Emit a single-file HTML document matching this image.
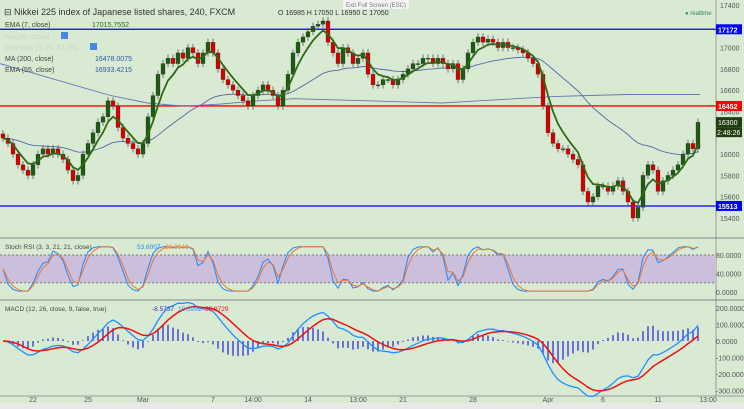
<!DOCTYPE html>
<html><head><meta charset="utf-8">
<style>
body{margin:0;width:744px;height:409px;overflow:hidden;background:#d9ead3;font-family:"Liberation Sans",sans-serif}
svg{display:block}
text{font-family:"Liberation Sans",sans-serif}
</style></head><body>
<svg id="c" width="744" height="409"></svg>
<script>
const closes=[16150,16100,16000,15900,15850,15800,15900,16000,16050,16000,16050,16000,15950,15850,15750,15800,16000,16100,16200,16300,16350,16500,16450,16250,16150,16100,16050,16000,16100,16350,16550,16750,16850,16900,16850,16950,16900,17000,16950,16850,16950,17050,16950,16800,16700,16650,16600,16550,16500,16450,16550,16600,16650,16600,16550,16450,16600,16750,16950,17050,17100,17150,17200,17220,17250,17050,16950,16850,17000,16950,16850,16900,16950,16750,16650,16650,16700,16700,16650,16700,16750,16800,16850,16850,16900,16900,16850,16900,16850,16800,16850,16700,16800,16950,17050,17100,17050,17080,17050,17000,17050,17000,17000,16980,16950,16900,16850,16750,16450,16200,16100,16050,16050,16000,15950,15900,15650,15550,15600,15700,15700,15650,15700,15750,15650,15550,15400,15500,15800,15900,15850,15650,15750,15800,15850,15900,16000,16100,16050,16300];
const maLong=[16850,16750,16650,16550,16480,16450,16470,16500,16520,16510,16500,16490,16480,16500,16520,16540,16550,16560,16560,16560];
const priceTicks=[17400,17000,16800,16600,16400,16000,15800,15600,15400];
const stochTicks=[80,40,0];
const macdTicks=[200,100,0,-100,-200,-300];
const xLabels=["22","25","Mar","7","14:00","14","13:00","21","28","Apr","6","11","13:00"];
const xLabelIdx=[6,17,28,42,50,61,71,80,94,109,120,131,141];
const levels=[17172,16452,15513];
const levelColors=["#0000ff","#ff0000","#0000ff"];

const NS="http://www.w3.org/2000/svg",svg=document.getElementById('c');
function el(tag,attrs,parent,txt){const e=document.createElementNS(NS,tag);for(const k in attrs)e.setAttribute(k,attrs[k]);if(txt!==undefined)e.textContent=txt;(parent||svg).appendChild(e);return e;}
const PW=716;
const px=i=>3+i*5;
const py=v=>5+(17400-v)*0.1065;
const sy=v=>292-v*0.4625;
const my=v=>341-v*0.165;
function ema(a,n){const k=2/(n+1);let r=[],p=a[0];a.forEach(v=>{p=v*k+p*(1-k);r.push(p)});return r;}
function line(vals,xf,yf,col,w,name){let d=vals.map((v,i)=>(i?'L':'M')+xf(i).toFixed(1)+','+yf(v).toFixed(1)).join('');const p=el('path',{d,fill:'none',stroke:col,'stroke-width':w});return p;}

// panels
el('rect',{x:0,y:0,width:744,height:409,fill:'#d9ead3'});
el('line',{x1:PW,y1:0,x2:PW,y2:396,stroke:'#999'});
el('line',{x1:0,y1:238,x2:744,y2:238,stroke:'#888'});
el('line',{x1:0,y1:300,x2:744,y2:300,stroke:'#888'});
el('line',{x1:0,y1:396,x2:744,y2:396,stroke:'#999'});
el('rect',{x:0,y:403,width:744,height:6,fill:'#e8e8e8'});
// stoch band
const band=el('rect',{x:0,y:sy(80),width:PW,height:sy(20)-sy(80),fill:'#cbbfdc'});

[80,20].forEach(v=>el('line',{x1:0,x2:PW,y1:sy(v),y2:sy(v),stroke:'#777','stroke-dasharray':'2,2'}));

// axes labels
priceTicks.forEach(v=>{const t=el('text',{x:720,y:py(v)+3,'font-size':7,fill:'#555'},null,v);});
stochTicks.forEach(v=>{const t=el('text',{x:716,y:sy(v)+3,'font-size':7,fill:'#555'},null,v.toFixed(4));});
macdTicks.forEach(v=>{const t=el('text',{x:716,y:my(v)+3,'font-size':7,fill:'#555'},null,v.toFixed(4));});
xLabels.forEach((s,j)=>{const t=el('text',{x:px(xLabelIdx[j]),y:402,'font-size':7,fill:'#555','text-anchor':'middle'},null,s);});

// levels
levels.forEach((v,j)=>{const l=el('line',{x1:0,x2:PW,y1:py(v),y2:py(v),stroke:levelColors[j],'stroke-width':1.3});
el('rect',{x:716,y:py(v)-5,width:26,height:10,fill:levelColors[j]});el('text',{x:718,y:py(v)+3,'font-size':7,fill:'#fff','font-weight':'bold'},null,v);});
const last=closes[closes.length-1];
el('rect',{x:716,y:py(last)-5,width:26,height:10,fill:'#1f3d10'});el('text',{x:718,y:py(last)+3,'font-size':7,fill:'#fff'},null,last);
el('rect',{x:716,y:py(last)+5,width:26,height:10,fill:'#1f3d10'});el('text',{x:717,y:py(last)+13,'font-size':7,fill:'#fff'},null,'2:48:26');

// MAs
line(maLong,i=>i*(700/(maLong.length-1)),py,'#6677bb',0.9,'ma-200-line');
line(ema(closes,35),px,py,'#5566aa',0.9,'ema-55-line');

// candles
closes.forEach((c,i)=>{const o=i?closes[i-1]:c+40;const up=c>=o;const hi=Math.max(o,c)+35,lo=Math.min(o,c)-35;
const g=el('g',{});
el('line',{x1:px(i),x2:px(i),y1:py(hi),y2:py(lo),stroke:'#444','stroke-width':0.7},g);
el('rect',{x:px(i)-2,y:py(Math.max(o,c)),width:4,height:Math.max(1,Math.abs(py(o)-py(c))),fill:up?'#1e5a12':'#d40000',stroke:'#333','stroke-width':0.3},g);});
line(ema(closes,5),px,py,'#2e6b14',1.8,'ema-7-line');

// stoch rsi
const raw=closes.map((c,i)=>{const w=closes.slice(Math.max(0,i-8),i+1);const mx=Math.max(...w),mn=Math.min(...w);return mx===mn?50:(c-mn)/(mx-mn)*100;});
const k=ema(raw,2),d=ema(k,2);
line(k,px,v=>sy(Math.max(2,Math.min(98,v))),'#2288ff',1,'stoch-k-line');
line(d,px,v=>sy(Math.max(2,Math.min(98,v))),'#ee7733',1,'stoch-d-line');

// macd
const e12=ema(closes,8),e26=ema(closes,17);
const macd=e12.map((v,i)=>(v-e26[i])*1.1);const sig=ema(macd,6);
macd.forEach((v,i)=>{const h=(v-sig[i])*1.3;const b=el('line',{x1:px(i),x2:px(i),y1:my(0),y2:my(h),stroke:'#2222dd','stroke-width':1.2});});
line(macd,px,my,'#1e90ff',1.3,'macd-line');
line(sig,px,my,'#ee1111',1.5,'signal-line');

// legends
function txt(x,y,s,col,size,name){const t=el('text',{x,y,'font-size':size||7,fill:col||'#444'},null,s);return t;}
txt(4,15,'⊟ Nikkei 225 index of Japanese listed shares, 240, FXCM','#333',9,'chart-title');
txt(278,15,'O 16985 H 17050 L 16950 C 17050','#333',7,'ohlc-values');
txt(5,27,'EMA (7, close)','#444',7,'legend-ema7');txt(92,27,'17015.7552','#2e6b14',7,'legend-ema7-value');
txt(5,39,'MA (20, close)','#c8d4c4',7,'legend-ma20');
txt(5,50,'Ichimoku (9, 26, 52, 26)','#c8d4c4',7,'legend-ichimoku');
txt(5,61,'MA (200, close)','#444',7,'legend-ma200');txt(95,61,'16478.0075','#3355aa',7,'legend-ma200-value');
txt(5,72,'EMA (55, close)','#444',7,'legend-ema55');txt(95,72,'16933.4215','#3355aa',7,'legend-ema55-value');
el('rect',{x:61,y:32,width:7,height:7,fill:'#4a86e8'});el('rect',{x:90,y:43,width:7,height:7,fill:'#4a86e8'});
txt(685,15,'● realtime','#2e8b57',6,'realtime-indicator');
el('rect',{x:343,y:0,width:66,height:9,fill:'#f4f4f4'});txt(346,7,'Exit Full Screen (ESC)','#777',6,'exit-fullscreen');
txt(5,249,'Stoch RSI (3, 3, 21, 21, close)','#444',6.5,'legend-stoch');txt(137,249,'53.6007','#2288ff',6.5,'stoch-k-value');txt(165,249,'60.0046','#ee7733',6.5,'stoch-d-value');
txt(5,344-33,'MACD (12, 26, close, 9, false, true)','#444',6.5,'legend-macd');txt(152,311,'-8.5737','#3333cc',6.5,'macd-hist-value');txt(178,311,'10.3992','#1e90ff',6.5,'macd-value');txt(205,311,'38.9729','#ee1111',6.5,'signal-value');
</script>
</body></html>
